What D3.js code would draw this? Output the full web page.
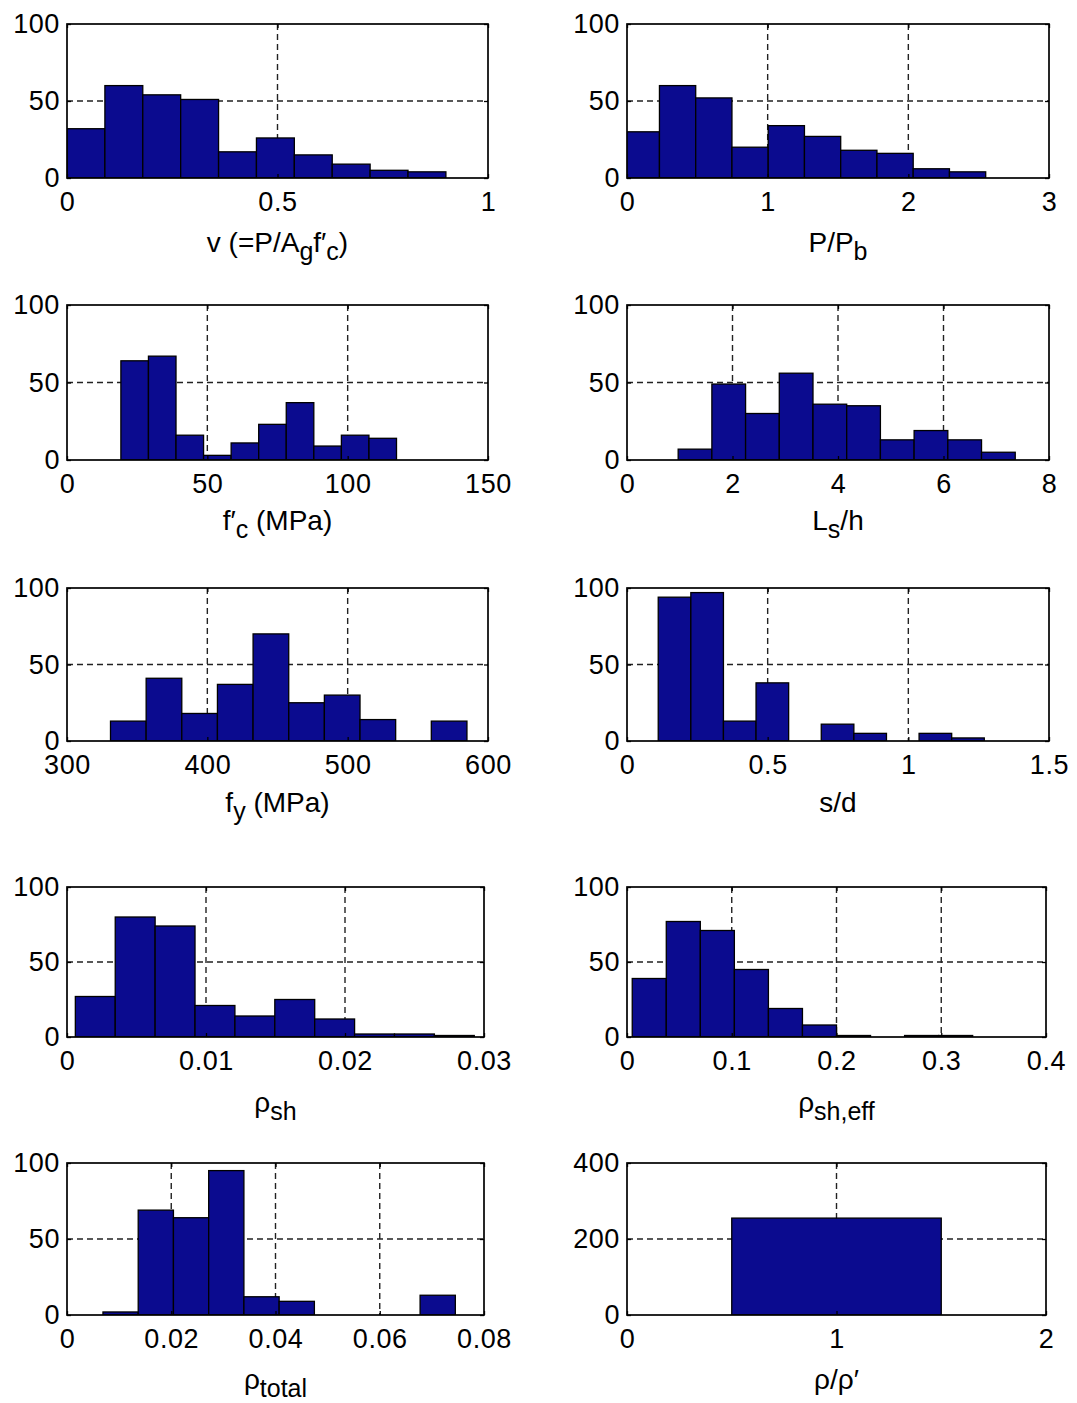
<!DOCTYPE html>
<html>
<head>
<meta charset="utf-8">
<script src="https://cdn.jsdelivr.net/npm/d3@7"></script>
<style>
  body { margin: 0; background: #fff; }
  text { font-family: "Liberation Sans", Arial, Helvetica, sans-serif; fill: #000; }
</style>
</head>
<body>
<script>
// counts per histogram bin (10 equal bins between the range edges)
let axialCounts = [32, 60, 54, 51, 17, 26, 15, 9, 5, 4];
let axialRange = [0, 0.9];
let balanceCounts = [30, 60, 52, 20, 34, 27, 18, 16, 6, 4];
let balanceRange = [-0.027, 2.55];
let fcCounts = [64, 67, 16, 3, 11, 23, 37, 9, 16, 14];
let fcRange = [19.2, 117.4];
let spanCounts = [7, 49, 30, 56, 36, 35, 13, 19, 13, 5];
let spanRange = [0.97, 7.36];
let fyCounts = [13, 41, 18, 37, 70, 25, 30, 14, 0, 13];
let fyRange = [331, 585];
let spacingCounts = [94, 97, 13, 38, 0, 11, 5, 0, 5, 2];
let spacingRange = [0.111, 1.27];
let rhoShCounts = [27, 80, 74, 21, 14, 25, 12, 2, 2, 1];
let rhoShRange = [0.0006, 0.0293];
let rhoEffCounts = [39, 77, 71, 45, 19, 8, 1, 0, 1, 1];
let rhoEffRange = [0.005, 0.33];
let rhoTotCounts = [2, 69, 64, 95, 12, 9, 0, 0, 0, 13];
let rhoTotRange = [0.0069, 0.0745];
let ratioCounts = [255];
let ratioRange = [0.5, 1.5];

// axis limits and tick values
let axialTicks = [0, 0.5, 1];
let balanceTicks = [0, 1, 2, 3];
let fcTicks = [0, 50, 100, 150];
let spanTicks = [0, 2, 4, 6, 8];
let fyTicks = [300, 400, 500, 600];
let spacingTicks = [0, 0.5, 1, 1.5];
let rhoShTicks = [0, 0.01, 0.02, 0.03];
let rhoEffTicks = [0, 0.1, 0.2, 0.3, 0.4];
let rhoTotTicks = [0, 0.02, 0.04, 0.06, 0.08];
let ratioTicks = [0, 1, 2];
let countTicks = [0, 50, 100];
let ratioCountTicks = [0, 200, 400];

// axis titles: [text, subscript?]
let axialLabel = [["v (=P/A", false], ["g", true], ["f\u2032", false], ["c", true], [")", false]];
let balanceLabel = [["P/P", false], ["b", true]];
let fcLabel = [["f\u2032", false], ["c", true], [" (MPa)", false]];
let spanLabel = [["L", false], ["s", true], ["/h", false]];
let fyLabel = [["f", false], ["y", true], [" (MPa)", false]];
let spacingLabel = [["s/d", false]];
let rhoShLabel = [["\u03c1", false], ["sh", true]];
let rhoEffLabel = [["\u03c1", false], ["sh,eff", true]];
let rhoTotLabel = [["\u03c1", false], ["total", true]];
let ratioLabel = [["\u03c1/\u03c1\u2032", false]];

let panels = [
    {counts: axialCounts, range: axialRange, xTicks: axialTicks, yTicks: countTicks, label: axialLabel},
    {counts: balanceCounts, range: balanceRange, xTicks: balanceTicks, yTicks: countTicks, label: balanceLabel},
    {counts: fcCounts, range: fcRange, xTicks: fcTicks, yTicks: countTicks, label: fcLabel},
    {counts: spanCounts, range: spanRange, xTicks: spanTicks, yTicks: countTicks, label: spanLabel},
    {counts: fyCounts, range: fyRange, xTicks: fyTicks, yTicks: countTicks, label: fyLabel},
    {counts: spacingCounts, range: spacingRange, xTicks: spacingTicks, yTicks: countTicks, label: spacingLabel},
    {counts: rhoShCounts, range: rhoShRange, xTicks: rhoShTicks, yTicks: countTicks, label: rhoShLabel},
    {counts: rhoEffCounts, range: rhoEffRange, xTicks: rhoEffTicks, yTicks: countTicks, label: rhoEffLabel},
    {counts: rhoTotCounts, range: rhoTotRange, xTicks: rhoTotTicks, yTicks: countTicks, label: rhoTotLabel},
    {counts: ratioCounts, range: ratioRange, xTicks: ratioTicks, yTicks: ratioCountTicks, label: ratioLabel}
];

// layout (pixels)
let size = {width: 1077, height: 1403};
let rows = [[24, 178], [305, 460], [588, 741], [887, 1037], [1163, 1315]];
let titleOffset = [74, 70, 71, 75, 74];
let colsUpper = [[67, 488], [627, 1049]];
let colsLower = [[67, 484], [627, 1046]];
let barColor = "#0b0b8f";

let svg = d3.select("body").append("svg")
    .attr("width", size.width)
    .attr("height", size.height);

panels.forEach(function (p, i) {
    let r = Math.floor(i / 2), c = i % 2;
    let cols = r < 3 ? colsUpper : colsLower;
    let [x0, x1] = cols[c];
    let [y0, y1] = rows[r];
    let w = x1 - x0, h = y1 - y0;

    let x = d3.scaleLinear()
        .domain(d3.extent(p.xTicks))
        .range([0, w]);
    let y = d3.scaleLinear()
        .domain(d3.extent(p.yTicks))
        .range([h, 0]);

    let g = svg.append("g")
        .attr("transform", `translate(${x0},${y0})`);

    g.append("clipPath")
        .attr("id", "clip" + i)
        .append("rect")
        .attr("width", w)
        .attr("height", h);

    // dashed grid on inner ticks
    let innerX = p.xTicks.slice(1, -1);
    let innerY = p.yTicks.slice(1, -1);
    g.append("g")
        .selectAll("line")
        .data(innerX)
        .join("line")
        .attr("x1", d => x(d)).attr("x2", d => x(d))
        .attr("y1", 0).attr("y2", h)
        .attr("stroke", "#222").attr("stroke-width", 1.4)
        .attr("stroke-dasharray", "6,4");
    g.append("g")
        .selectAll("line")
        .data(innerY)
        .join("line")
        .attr("x1", 0).attr("x2", w)
        .attr("y1", d => y(d)).attr("y2", d => y(d))
        .attr("stroke", "#222").attr("stroke-width", 1.4)
        .attr("stroke-dasharray", "6,4");

    // histogram bars
    let n = p.counts.length;
    let step = (p.range[1] - p.range[0]) / n;
    let bins = p.counts.map((v, k) => ({
        lo: p.range[0] + k * step,
        hi: p.range[0] + (k + 1) * step,
        value: v
    })).filter(d => d.value > 0);

    g.append("g")
        .attr("clip-path", `url(#clip${i})`)
        .selectAll("rect")
        .data(bins)
        .join("rect")
        .attr("x", d => x(d.lo))
        .attr("width", d => x(d.hi) - x(d.lo))
        .attr("y", d => y(d.value))
        .attr("height", d => y(0) - y(d.value))
        .attr("fill", barColor)
        .attr("stroke", "#000")
        .attr("stroke-width", 1.3);

    // axes with inward ticks
    let fmt = d => String(d);
    g.append("g")
        .attr("transform", `translate(0,${h})`)
        .call(d3.axisBottom(x).tickValues(p.xTicks).tickFormat(fmt)
            .tickSizeInner(-4).tickSizeOuter(0).tickPadding(14));
    g.append("g")
        .call(d3.axisLeft(y).tickValues(p.yTicks).tickFormat(fmt)
            .tickSizeInner(-4).tickSizeOuter(0).tickPadding(7));
    g.append("g")
        .call(d3.axisTop(x).tickValues(p.xTicks).tickFormat("")
            .tickSizeInner(-4).tickSizeOuter(0));
    g.append("g")
        .attr("transform", `translate(${w},0)`)
        .call(d3.axisRight(y).tickValues(p.yTicks).tickFormat("")
            .tickSizeInner(-4).tickSizeOuter(0));

    g.selectAll(".domain").remove();
    g.selectAll(".tick line").attr("stroke", "#000").attr("stroke-width", 1.3);
    g.selectAll(".tick text")
        .attr("font-family", null)
        .attr("font-size", 27)
        .attr("letter-spacing", 0.6)
        .attr("fill", "#000");

    g.append("rect")
        .attr("width", w)
        .attr("height", h)
        .attr("fill", "none")
        .attr("stroke", "#000")
        .attr("stroke-width", 1.7);

    // axis title with subscripts
    let title = g.append("text")
        .attr("x", w / 2)
        .attr("y", h + titleOffset[r])
        .attr("text-anchor", "middle")
        .attr("font-size", 28);
    let down = false;
    p.label.forEach(function ([t, sub]) {
        let span = title.append("tspan").text(t);
        if (sub && !down) { span.attr("dy", 8).attr("font-size", 25); down = true; }
        else if (sub) { span.attr("font-size", 25); }
        else if (!sub && down) { span.attr("dy", -8); down = false; }
    });
});
</script>
</body>
</html>
